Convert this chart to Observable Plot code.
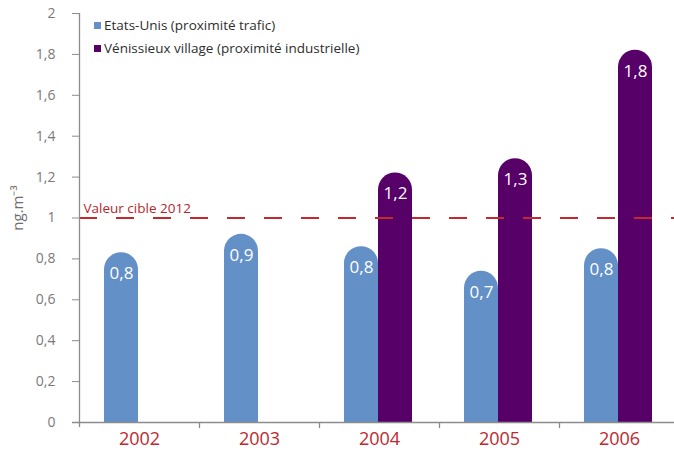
<!DOCTYPE html>
<html>
<head>
<meta charset="utf-8">
<script src="https://cdn.jsdelivr.net/npm/d3@7"></script>
<script src="https://cdn.jsdelivr.net/npm/@observablehq/plot@0.6"></script>
<style>
  body { margin: 0; background: #fff; font-family: "Open Sans", sans-serif; }
  #wrap { position: relative; width: 674px; height: 453px; }
  #legend { position: absolute; left: 94px; top: 14px; font-size: 13.5px; color: #2e2e2e; line-height: 23px; }
  #legend .sw { display: inline-block; width: 7px; height: 7px; margin-right: 3px; vertical-align: 1px; }
</style>
</head>
<body>
<div id="wrap">
  <div id="chart"></div>
  <div id="legend"></div>
</div>
<script>
const years = ["2002", "2003", "2004", "2005", "2006"];
const seriesNames = ["Etats-Unis (proximité trafic)", "Vénissieux village (proximité industrielle)"];
const seriesColors = ["#6390c7", "#560068"];
const etatsUnis = [0.83, 0.92, 0.86, 0.74, 0.85];
const etatsUnisLabels = ["0,8", "0,9", "0,8", "0,7", "0,8"];
const venissieux = [null, null, 1.22, 1.29, 1.82];
const venissieuxLabels = [null, null, "1,2", "1,3", "1,8"];
const yTicks = [0, 0.2, 0.4, 0.6, 0.8, 1, 1.2, 1.4, 1.6, 1.8, 2];
const target = 1;
const targetLabel = "Valeur cible 2012";
const yLabel = "ng.m⁻³";

const blue = years.map((y, i) => ({year: y, value: etatsUnis[i], label: etatsUnisLabels[i]}));
const purple = years.map((y, i) => ({year: y, value: venissieux[i], label: venissieuxLabels[i]})).filter(d => d.value != null);

const font = "Open Sans";
const barOpts = (c, l, r) => ({x: "year", fill: c, insetLeft: l, insetRight: r});

const chart = Plot.plot({
  width: 674,
  height: 453,
  marginLeft: 79,
  marginRight: 0,
  marginTop: 13,
  marginBottom: 31,
  style: {fontFamily: font, background: "#fff"},
  x: {domain: years, range: [79, 679], padding: 0},
  y: {domain: [0, 2], range: [422, 13]},
  marks: [
    // bars: rounded full bar + square lower part
    Plot.barY(blue, {...barOpts(seriesColors[0], 25, 61), y: "value", rx: 17}),
    Plot.barY(blue, {...barOpts(seriesColors[0], 25, 61), y1: 0, y2: d => d.value - 0.1}),
    Plot.barY(purple, {...barOpts(seriesColors[1], 59, 27), y: "value", rx: 17}),
    Plot.barY(purple, {...barOpts(seriesColors[1], 59, 27), y1: 0, y2: d => d.value - 0.1}),
    Plot.text(blue, {x: "year", y: "value", text: "label", dx: -18, dy: 21, fill: "white", fontSize: 17}),
    Plot.text(purple, {x: "year", y: "value", text: "label", dx: 16, dy: 21, fill: "white", fontSize: 17}),
    // target line
    Plot.ruleY([target], {stroke: "#c3282e", strokeWidth: 2, strokeDasharray: "18,19"}),
    Plot.text([target], {y: d => d, text: () => targetLabel, frameAnchor: "left", dx: 4, dy: -9, fill: "#b8252c", fontSize: 13.5, textAnchor: "start"}),
    // axes lines
    Plot.ruleY([0], {stroke: "#8c8c8c", strokeWidth: 1.3, insetLeft: -7}),
    Plot.ruleX([years[0]], {x: d => d, dx: -60, y1: -0.025, y2: 2, stroke: "#8c8c8c", strokeWidth: 1.3}),
    Plot.ruleX(years.slice(1), {x: d => d, dx: -60, y1: 0, y2: -0.03, stroke: "#8c8c8c", strokeWidth: 1.3}),
    Plot.axisY({ticks: yTicks, tickFormat: d => String(d).replace(".", ","), tickSize: 7, tickPadding: 17, fontSize: 14, color: "#7a7a7a", stroke: "#8c8c8c", label: null}),
    Plot.text([yLabel], {text: d => d, frameAnchor: "left", textAnchor: "middle", dx: -61, dy: -10, rotate: -90, fontSize: 15, fill: "#6e6e6e"}),
    Plot.axisX({tickSize: 0, tickPadding: 10, fontSize: 18, color: "#c0282d", label: null})
  ]
});
document.getElementById("chart").appendChild(chart);

const legend = document.getElementById("legend");
seriesNames.forEach((n, i) => {
  const row = document.createElement("div");
  row.innerHTML = `<span class="sw" style="background:${seriesColors[i]}"></span>${n}`;
  legend.appendChild(row);
});
</script>
</body>
</html>
